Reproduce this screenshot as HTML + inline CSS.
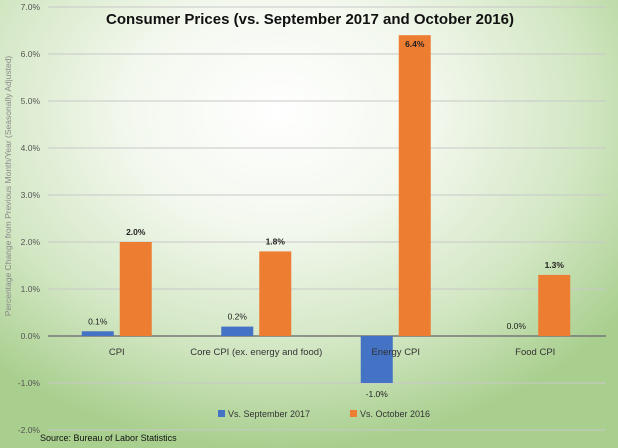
<!DOCTYPE html>
<html><head><meta charset="utf-8"><style>
body{margin:0;}
#c{width:618px;height:448px;position:relative;overflow:hidden;font-family:"Liberation Sans",sans-serif;
background:radial-gradient(ellipse 70% 75% at 45% 25%,#ffffff 0%,#f3f8ee 35%,#d3e7c4 70%,#a9cf8f 100%);}
</style></head><body>
<div id="c">
<svg id="s" width="618" height="448" xmlns="http://www.w3.org/2000/svg">
<text x="310" y="24" text-anchor="middle" font-size="14.8" font-weight="bold" fill="#111" textLength="408" lengthAdjust="spacingAndGlyphs">Consumer Prices (vs. September 2017 and October 2016)</text>
<text transform="translate(11,186) rotate(-90)" text-anchor="middle" font-size="8.5" fill="#888">Percentage Change from Previous Month/Year (Seasonally Adjusted)</text>
<g id="grid"></g><g id="bars"></g><g id="labels"></g>
<rect x="218" y="410" width="7" height="7" fill="#4472c4"/>
<text x="228" y="417" font-size="9" fill="#333">Vs. September 2017</text>
<rect x="350" y="410" width="7" height="7" fill="#ed7d31"/>
<text x="360" y="417" font-size="9" fill="#333">Vs. October 2016</text>
<text x="40" y="441" font-size="9" fill="#111">Source: Bureau of Labor Statistics</text>
</svg></div>
<script>
const categories=["CPI","Core CPI (ex. energy and food)","Energy CPI","Food CPI"];
const seriesSep=[0.1,0.2,-1.0,0.0];
const seriesOct=[2.0,1.8,6.4,1.3];
const ticks=[-2,-1,0,1,2,3,4,5,6,7];
const NS="http://www.w3.org/2000/svg";
const L=48,R=606,Y0=336,PX=47;
function y(v){return Y0-v*PX;}
function x(i){return L+(i+0.5)*(R-L)/categories.length;}
function mk(t,a,p){const e=document.createElementNS(NS,t);for(const k in a)e.setAttribute(k,a[k]);p.appendChild(e);return e;}
const g=document.getElementById('grid'),b=document.getElementById('bars'),lb=document.getElementById('labels');
ticks.forEach(t=>{
 const ln=mk('line',{x1:L,x2:R,y1:y(t),y2:y(t),stroke:t===0?'#777':'#c8c8c8','stroke-width':t===0?1.5:1},g);
 
 
 const tx=mk('text',{x:40,y:y(t)+3,'text-anchor':'end','font-size':8.5,fill:'#555'},g);
 tx.textContent=t.toFixed(1)+'%';
 
 
});
categories.forEach((c,i)=>{
 const cx=x(i);
 const lab=mk('text',{x:cx-1,y:355,'text-anchor':'middle','font-size':9.5,fill:'#333'},lb);
 lab.textContent=c;
 
 
 [[seriesSep[i],cx-36,'#4472c4',false],[seriesOct[i],cx+2,'#ed7d31',true]].forEach(([v,bx,col,bold])=>{
  const top=Math.min(y(v),Y0),h=Math.abs(y(v)-Y0);
  const r=mk('rect',{x:bx,y:top,width:32,height:h,fill:col},b);
  
  
  let ly=v<0?y(v)+14:y(v)-7;
  if(v>6)ly=y(v)+12;
  const t=mk('text',{x:bx+16,y:ly,'text-anchor':'middle','font-size':8.5,fill:'#222','font-weight':bold?'bold':'normal'},lb);
  t.textContent=v.toFixed(1)+'%';
  
  
 });
});
</script>
</body></html>
